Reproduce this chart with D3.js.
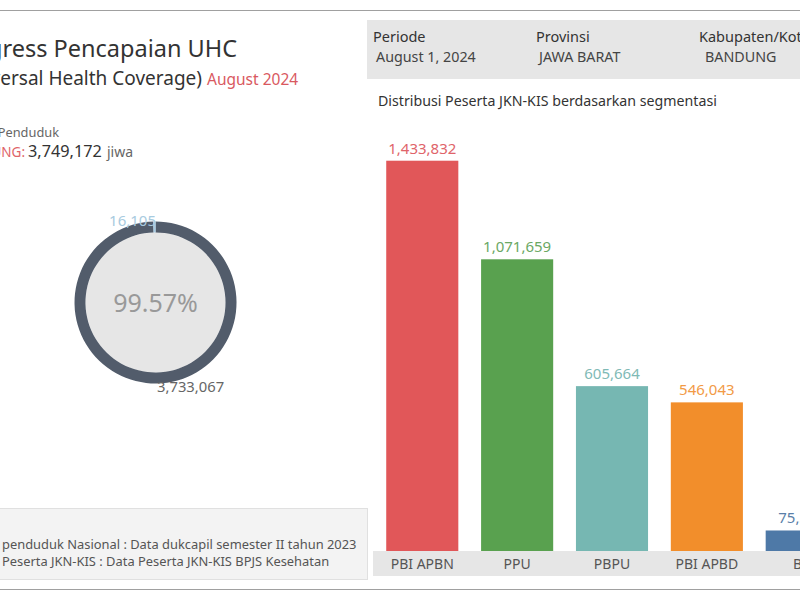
<!DOCTYPE html>
<html><head><meta charset="utf-8">
<script src="https://cdn.jsdelivr.net/npm/d3@7"></script>
<style>body{margin:0;background:#fff}svg{display:block;font-family:"Noto Sans",sans-serif}</style>
</head><body><svg id="c" width="800" height="600"></svg>
<script>
const categories = ["PBI APBN","PPU","PBPU","PBI APBD","BP"];
const values = [1433832,1071659,605664,546043,75374];
const colors = ["#e15759","#59a14f","#76b7b2","#f28e2b","#4e79a7"];
const labelColors = ["#e0646a","#6aa864","#7fbab6","#f29a45","#5a7fa8"];
const donutValues = [3733067,16105];
const donutLabels = ["3,733,067","16,105"];
const donutColors = ["#525c6b","#a6cbe3"];
const totalPenduduk = 3749172;
const filterLabels = ["Periode","Provinsi","Kabupaten/Kota"];
const filterValues = ["August 1, 2024","JAWA BARAT","BANDUNG"];

const svg = d3.select("#c");
// frame lines
svg.append("line").attr("x1",0).attr("x2",800).attr("y1",10.5).attr("y2",10.5).attr("stroke","#a0a0a0");
svg.append("line").attr("x1",0).attr("x2",800).attr("y1",589.5).attr("y2",589.5).attr("stroke","#a0a0a0");

// Title
svg.append("text").attr("x",237).attr("y",57).attr("text-anchor","end").attr("font-size",23.5).attr("fill","#333").text("Progress Pencapaian UHC");
svg.append("text").attr("x",202).attr("y",85).attr("text-anchor","end").attr("font-size",19).attr("fill","#333").text("(Universal Health Coverage)");
svg.append("text").attr("x",207).attr("y",85).attr("font-size",15.5).attr("fill","#d9595f").text("August 2024");

svg.append("text").attr("x",59).attr("y",137).attr("text-anchor","end").attr("font-size",12.8).attr("fill","#666").text("Jumlah Penduduk");
svg.append("text").attr("x",25).attr("y",157).attr("text-anchor","end").attr("font-size",13.5).attr("fill","#e0646a").text("BANDUNG:");
svg.append("text").attr("x",28).attr("y",157).attr("font-size",16.3).attr("fill","#333").text(d3.format(",")(totalPenduduk));
svg.append("text").attr("x",107).attr("y",157).attr("font-size",14).attr("fill","#666").text("jiwa");

// Donut
const cx=155.5, cy=302.5;
const g = svg.append("g").attr("transform",`translate(${cx},${cy})`);
g.append("circle").attr("r",70).attr("fill","#e6e6e6");
const pie = d3.pie().sort(null)(donutValues);
const arc = d3.arc().innerRadius(70).outerRadius(81);
g.selectAll("path.s").data(pie).join("path").attr("d",arc).attr("fill",(d,i)=>donutColors[i]);
g.append("text").attr("text-anchor","middle").attr("y",9).attr("font-size",25).attr("fill","#999").text(d3.format(".2%")(donutValues[0]/totalPenduduk));
svg.append("text").attr("x",157).attr("y",392).attr("font-size",14.8).attr("fill","#666").text(donutLabels[0]);
svg.append("text").attr("x",156).attr("y",226).attr("text-anchor","end").attr("font-size",15).attr("fill","#a8cbe0").text(donutLabels[1]);

// Footer box
svg.append("rect").attr("x",-1).attr("y",508.5).attr("width",368.5).attr("height",71).attr("fill","#f3f3f3").attr("stroke","#e0e0e0");
const fs = 12.9;
const f1 = svg.append("text").attr("y",549).attr("font-size",fs).attr("fill","#555").text("Jumlah penduduk Nasional : Data dukcapil semester II tahun 2023");
const f2 = svg.append("text").attr("y",566).attr("font-size",fs).attr("fill","#555").text("Jumlah Peserta JKN-KIS : Data Peserta JKN-KIS BPJS Kesehatan");
const tmp = svg.append("text").attr("font-size",fs).text("Jumlah\u00a0");
const pw = tmp.node().getComputedTextLength(); tmp.remove();
f1.attr("x",2-pw); f2.attr("x",2-pw);

// Filter box
svg.append("rect").attr("x",367).attr("y",20).attr("width",440).attr("height",59).attr("fill","#e6e6e6");
const fx=[373,536,699];
filterLabels.forEach((l,i)=>{
  svg.append("text").attr("x",fx[i]).attr("y",42).attr("font-size",14.5).attr("fill","#333").text(l);
  svg.append("text").attr("x",fx[i]+3+(i==2?3:0)).attr("y",62).attr("font-size",14.3).attr("fill","#444").text(filterValues[i]);
});

// Bar chart
svg.append("text").attr("x",378).attr("y",106).attr("font-size",14.2).attr("fill","#333").text("Distribusi Peserta JKN-KIS berdasarkan segmentasi");
const x = d3.scaleBand().domain(categories).range([372,852]).paddingInner(0.24).paddingOuter(0.15);
const y = d3.scaleLinear().domain([0,1500000]).range([551,142.7]);
svg.append("rect").attr("x",373).attr("y",551).attr("width",430).attr("height",25).attr("fill","#e6e6e6");
svg.selectAll("rect.bar").data(values).join("rect").attr("class","bar")
  .attr("x",(d,i)=>x(categories[i])).attr("width",x.bandwidth())
  .attr("y",d=>y(d)).attr("height",d=>y(0)-y(d)).attr("fill",(d,i)=>colors[i]);
svg.selectAll("text.vl").data(values).join("text").attr("class","vl")
  .attr("x",(d,i)=>x(categories[i])+x.bandwidth()/2).attr("y",d=>y(d)-7)
  .attr("text-anchor","middle").attr("font-size",15).attr("fill",(d,i)=>labelColors[i]).text(d=>d3.format(",")(d));
svg.selectAll("text.cl").data(categories).join("text").attr("class","cl")
  .attr("x",d=>x(d)+x.bandwidth()/2).attr("y",569)
  .attr("text-anchor","middle").attr("font-size",14).attr("fill","#555").text(d=>d);
</script></body></html>
